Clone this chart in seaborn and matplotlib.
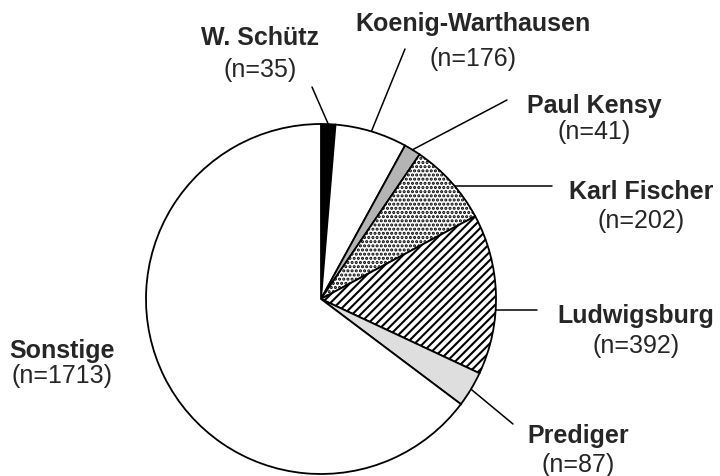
import matplotlib
matplotlib.use("Agg")
import numpy as np
import matplotlib.pyplot as plt
import seaborn as sns

# data
names = ["W. Schütz", "Koenig-Warthausen", "Paul Kensy", "Karl Fischer",
         "Ludwigsburg", "Prediger", "Sonstige"]
counts = [35, 176, 41, 202, 392, 87, 1713]
face_colors = ["black", "white", "#b4b4b4", "white", "white", "#dedede", "white"]
hatches = [None, None, None, "....", "////", None, None]

# label layout in pixels (x centre, name baseline, n baseline, leader end), y from top
label_x = [260, 473, 594, 641, 636, 578, 62]
name_base = [45, 31, 113, 199, 323, 443, 358]
n_base = [77, 66, 139, 228, 353, 472, 383]
leader_end = [(312, 88), (405, 50), (507, 101), (552, 187), (537, 311), (513, 425), None]
leader_flat = [False, False, False, True, True, False, False]

sns.set_style("white")
plt.rcParams['font.family'] = ['Liberation Sans', 'DejaVu Sans']
plt.rcParams['hatch.linewidth'] = 1.5

W, H = 720, 477
fig = plt.figure(figsize=(7.2, 4.77), dpi=100)
ax = fig.add_axes([0, 0, 1, 1])

cx, cy, r = 321, H - 300, 175
wedges, _ = ax.pie(counts, startangle=90, counterclock=False,
                   center=(cx, cy), radius=r, colors=face_colors,
                   wedgeprops=dict(edgecolor="black", linewidth=1.3))
for w, h in zip(wedges, hatches):
    if h:
        w.set_hatch(h)

for i, w in enumerate(wedges):
    ax.text(label_x[i], H - name_base[i], names[i], ha="center", va="baseline",
            fontsize=18, fontweight="bold")
    ax.text(label_x[i], H - n_base[i], f"(n={counts[i]})", ha="center", va="baseline",
            fontsize=18)
    if leader_end[i] is not None:
        ex, ey = leader_end[i]
        ey = H - ey
        if leader_flat[i]:
            # horizontal leader meeting the rim at the label height
            px, py = cx + np.sqrt(r ** 2 - (ey - cy) ** 2), ey
        else:
            mid = np.deg2rad((w.theta1 + w.theta2) / 2)
            px, py = cx + r * np.cos(mid), cy + r * np.sin(mid)
        ax.plot([px, ex], [py, ey], color="black", lw=1.1)

ax.set_xlim(0, W)
ax.set_ylim(0, H)
ax.set_aspect("equal")
ax.axis("off")

fig.savefig("out.png", dpi=100)
